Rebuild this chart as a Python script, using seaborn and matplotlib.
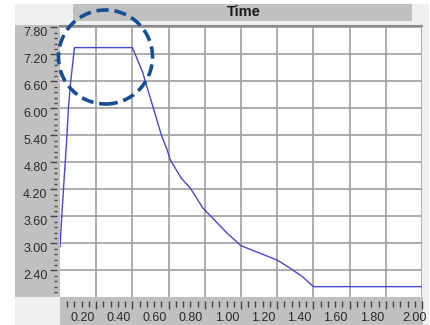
import matplotlib
matplotlib.use("Agg")
import matplotlib.pyplot as plt
from matplotlib.patches import Rectangle, Ellipse
from matplotlib.transforms import ScaledTranslation
import seaborn as sns
import pandas as pd
import numpy as np

# ---- data ----
time = [0.0, 0.013, 0.025, 0.037, 0.047, 0.06, 0.08, 0.40, 0.456, 0.56, 0.59, 0.61,
        0.67, 0.72, 0.79, 0.83, 0.92, 1.00, 1.10, 1.20, 1.26, 1.34, 1.40, 2.00]
value = [2.93, 3.82, 4.57, 5.30, 6.04, 6.63, 7.35, 7.35, 6.81, 5.41, 5.10, 4.85,
         4.45, 4.23, 3.78, 3.62, 3.24, 2.95, 2.79, 2.63, 2.48, 2.26, 2.04, 2.04]
x_ticks = [0.20, 0.40, 0.60, 0.80, 1.00, 1.20, 1.40, 1.60, 1.80, 2.00]
y_ticks = [2.40, 3.00, 3.60, 4.20, 4.80, 5.40, 6.00, 6.60, 7.20, 7.80]
title = "Time"

df = pd.DataFrame({"Time": time, "Value": value})

W, H = 431, 325
DPI = 100
fig = plt.figure(figsize=(W / DPI, H / DPI), dpi=DPI, facecolor="white")

def px_rect(x0, y0, x1, y1, color, z=0):
    fig.add_artist(Rectangle((x0 / W, 1 - y1 / H), (x1 - x0) / W, (y1 - y0) / H,
                             transform=fig.transFigure, facecolor=color,
                             edgecolor="none", zorder=z))

# background panels
px_rect(15, 4, 429, 325, "#f0f0f0", z=-5)
px_rect(15, 25, 60, 297, "#c0c0c0", z=-4)
px_rect(60, 297, 423, 325, "#c0c0c0", z=-4)
px_rect(73, 4, 412, 21, "#c0c0c0", z=-4)

ax = fig.add_axes([60 / W, 1 - 297 / H, (422 - 60) / W, (297 - 26) / H])
ax.set_facecolor("white")

sns.lineplot(data=df, x="Time", y="Value", ax=ax, color="#4848cc",
             linewidth=1.0, estimator=None, sort=False, zorder=3)

ax.set_xlim(0, 2.0)
ax.set_ylim(1.81, 7.83)
ax.set_xlabel("")
ax.set_ylabel("")

ax.set_xticks(x_ticks)
ax.set_xticklabels([f"{v:.2f}" for v in x_ticks])
ax.set_xticks(np.arange(0.04, 2.001, 0.04), minor=True)
ax.set_yticks(y_ticks)
ax.set_yticklabels([f"{v:.2f}" for v in y_ticks])
ax.set_yticks(np.arange(1.92, 7.85, 0.12), minor=True)

ax.grid(True, which="major", color="#a0a0a0", linewidth=1.2)
ax.set_axisbelow(True)

for s in ["left", "right", "bottom"]:
    ax.spines[s].set_visible(False)
ax.spines["top"].set_color("#8a8a8a")
ax.spines["top"].set_linewidth(1.5)
ax.spines["bottom"].set_position(("outward", 3))
ax.spines["left"].set_position(("outward", 2))

ax.tick_params(axis="both", which="both", colors="#444444", direction="out")
ax.tick_params(axis="x", which="major", length=6, width=1, pad=2,
               labelsize=9, labelcolor="#2a2a2a")
ax.tick_params(axis="x", which="minor", length=4, width=1)
ax.tick_params(axis="y", which="major", length=5, width=1, pad=2,
               labelsize=9, labelcolor="#2a2a2a")
ax.tick_params(axis="y", which="minor", length=2, width=1)

for lab in ax.get_xticklabels() + ax.get_yticklabels():
    lab.set_fontfamily("Liberation Sans")

# x labels sit a little left of their ticks in the reference
xl = ax.get_xticklabels()
for i, lab in enumerate(xl):
    dx = -7 if i == len(xl) - 1 else -14
    lab.set_transform(lab.get_transform() + ScaledTranslation(dx / DPI, 0, fig.dpi_scale_trans))
yl = ax.get_yticklabels()
for lab in yl:
    lab.set_transform(lab.get_transform() + ScaledTranslation(0, -4 / DPI, fig.dpi_scale_trans))

fig.text(244 / W, 1 - 12.5 / H, title, ha="center", va="center",
         fontsize=10.5, fontweight="bold", family="Liberation Sans", color="#1a1a1a")

# dashed highlight circle
fig.add_artist(Ellipse((105.5 / W, 1 - 57 / H), 94 / W, 94 / H,
                       transform=fig.transFigure, fill=False,
                       edgecolor="#154f91", linewidth=2.6,
                       linestyle=(0, (3.4, 1.6)), zorder=10))

fig.savefig("out.png", dpi=DPI, facecolor="white")
